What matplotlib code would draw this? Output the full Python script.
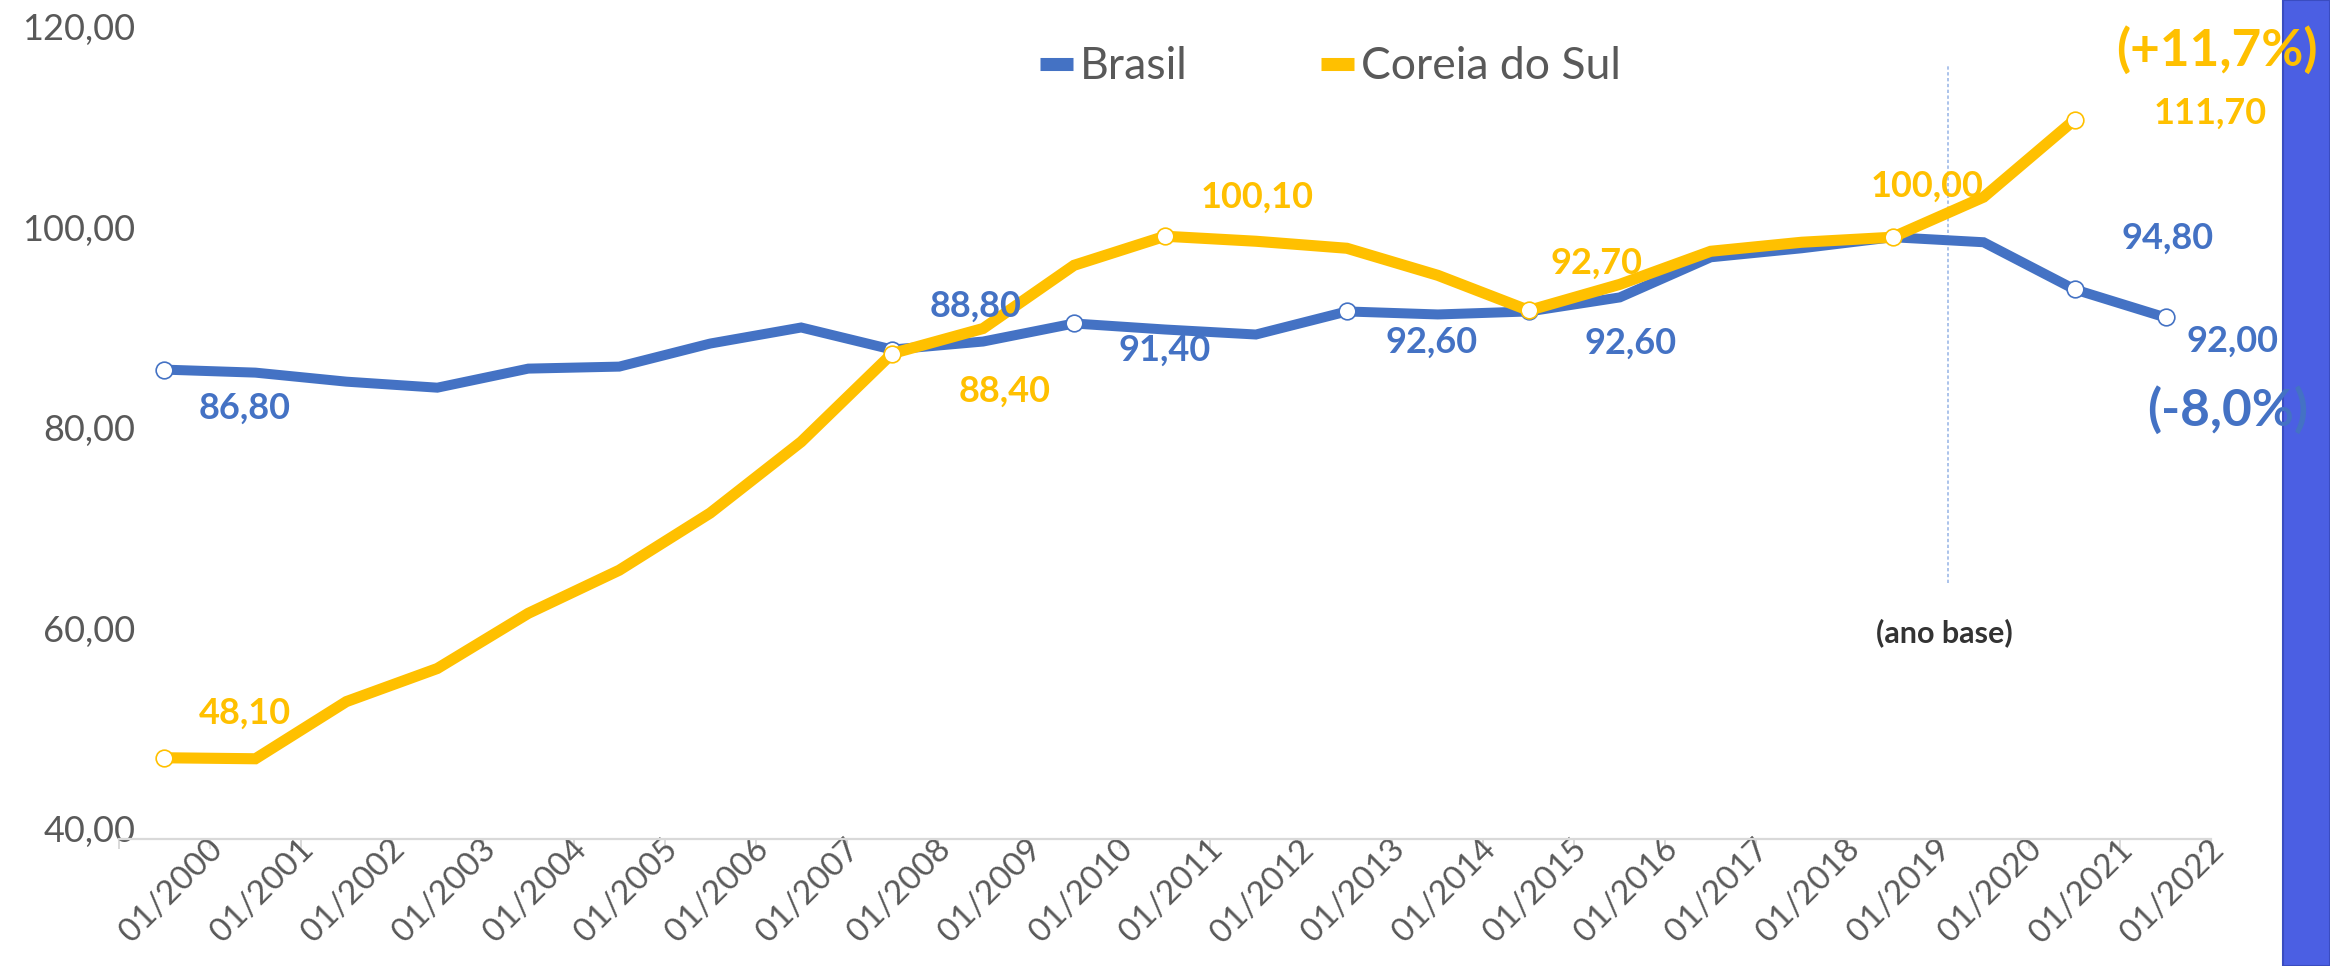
import matplotlib
matplotlib.use("Agg")
import matplotlib.pyplot as plt
import matplotlib.transforms as mtransforms
from matplotlib.lines import Line2D
from matplotlib.patches import Rectangle

plt.rcParams['font.family'] = ['Lato', 'DejaVu Sans']

# data
categorias = ["01/%d" % a for a in range(2000, 2023)]
brasil = [86.8, 86.5, 85.6, 85.0, 86.9, 87.1, 89.4, 91.0, 88.8, 89.6, 91.4, 90.8,
          90.3, 92.6, 92.3, 92.6, 94.0, 98.0, 98.9, 100.0, 99.5, 94.8, 92.0]
coreia = [48.1, 48.0, 53.7, 57.0, 62.5, 66.8, 72.5, 79.6, 88.4, 90.9, 97.2, 100.1,
          99.6, 98.9, 96.2, 92.7, 95.3, 98.6, 99.5, 100.0, 104.0, 111.7]
ano_base = 19

# which points get a marker + value label, and label offsets (points)
rot_brasil = {0: (58, -28), 8: (60, 31), 10: (65, -19), 13: (61, -22),
              15: (73, -23), 21: (67, 37), 22: (48, -17)}
rot_coreia = {0: (58, 32), 8: (81, -27), 11: (66, 28), 15: (49, 34),
              19: (25, 37), 21: (98, 5)}

azul = '#4472C4'
amarelo = '#FFC000'
cinza = '#595959'

fig = plt.figure(figsize=(23.3, 9.66), dpi=100)
ax = fig.add_axes([0.05107, 0.13147, 0.89785, 0.8306])

xb = list(range(len(brasil)))
xc = list(range(len(coreia)))

ax.plot(xb, brasil, color=azul, lw=7.2, solid_joinstyle='miter', zorder=2,
        marker='o', markevery=sorted(rot_brasil), markersize=12,
        markerfacecolor='white', markeredgecolor=azul, markeredgewidth=1.2)
ax.plot(xc, coreia, color=amarelo, lw=8, solid_joinstyle='miter', zorder=3,
        marker='o', markevery=sorted(rot_coreia), markersize=12,
        markerfacecolor='white', markeredgecolor=amarelo, markeredgewidth=1.2)

def fmt(v):
    return ("%.2f" % v).replace('.', ',')

for i, off in rot_brasil.items():
    ax.annotate(fmt(brasil[i]), (i, brasil[i]), xytext=off, textcoords='offset points',
                ha='center', va='center', fontsize=26, fontweight='bold', color=azul,
                zorder=5)
for i, off in rot_coreia.items():
    ax.annotate(fmt(coreia[i]), (i, coreia[i]), xytext=off, textcoords='offset points',
                ha='center', va='center', fontsize=26, fontweight='bold', color=amarelo,
                zorder=5)

# base year marker
ax.plot([ano_base + 0.61, ano_base + 0.61], [65.5, 117.3], color='#9DB9E8',
        lw=1.2, ls=(0, (2, 1.5)), zorder=1)
ax.text(ano_base + 0.57, 60.6, '(ano base)', ha='center', va='center',
        fontsize=22, fontweight='bold', color='#333333')

ax.set_xlim(-0.5, len(categorias) - 0.5)
ax.set_ylim(40, 120)
ax.set_yticks([40, 60, 80, 100, 120])
ax.set_yticklabels([fmt(v) for v in [40, 60, 80, 100, 120]])
ax.set_xticks([k - 0.5 for k in range(len(categorias) + 1)])
ax.set_xticklabels([''] + categorias, rotation=45, ha='right', va='center',
                   rotation_mode='anchor')

for s in ['top', 'right', 'left']:
    ax.spines[s].set_visible(False)
ax.spines['bottom'].set_color('#d9d9d9')
ax.spines['bottom'].set_linewidth(1.6)
ax.tick_params(axis='x', direction='out', length=7.2, width=1.4, color='#d9d9d9',
               labelsize=24, labelcolor=cinza, pad=-3)
ax.tick_params(axis='y', length=0, labelsize=26, labelcolor=cinza, pad=-12)

desl_y = mtransforms.ScaledTranslation(0, 10 / 100, fig.dpi_scale_trans)
for t in ax.get_yticklabels():
    t.set_transform(t.get_transform() + desl_y)
desl_x = mtransforms.ScaledTranslation(8 / 100, 0, fig.dpi_scale_trans)
for t in ax.get_xticklabels():
    t.set_transform(t.get_transform() + desl_x)

# legend
handles = [Line2D([0], [0], color=azul, lw=9.4, solid_capstyle='butt'),
           Line2D([0], [0], color=amarelo, lw=9.4, solid_capstyle='butt')]
leg = fig.legend(handles, ['Brasil', 'Coreia do Sul'], loc='center',
                 bbox_to_anchor=(0.571, 0.931), ncol=2, frameon=False,
                 fontsize=32, handlelength=0.75, handletextpad=0.15,
                 columnspacing=3.0)
for t in leg.get_texts():
    t.set_color(cinza)

# blue side bar
fig.patches.append(Rectangle((0.9798, 0), 0.0202, 1, transform=fig.transFigure,
                             facecolor='#4B5FE3', edgecolor='#3A4CC0', lw=1.5,
                             zorder=1))

var_c = (coreia[-1] / coreia[ano_base] - 1) * 100
var_b = (brasil[-1] / brasil[ano_base] - 1) * 100
fig.text(0.9515, 0.948, "(+%s%%)" % ("%.1f" % var_c).replace('.', ','),
         ha='center', va='center', fontsize=37, fontweight='bold', color=amarelo, zorder=5)
fig.text(0.9562, 0.5756, "(%s%%)" % ("%.1f" % var_b).replace('.', ','),
         ha='center', va='center', fontsize=37, fontweight='bold', color=azul, zorder=5)

fig.savefig('out.png', dpi=100)
